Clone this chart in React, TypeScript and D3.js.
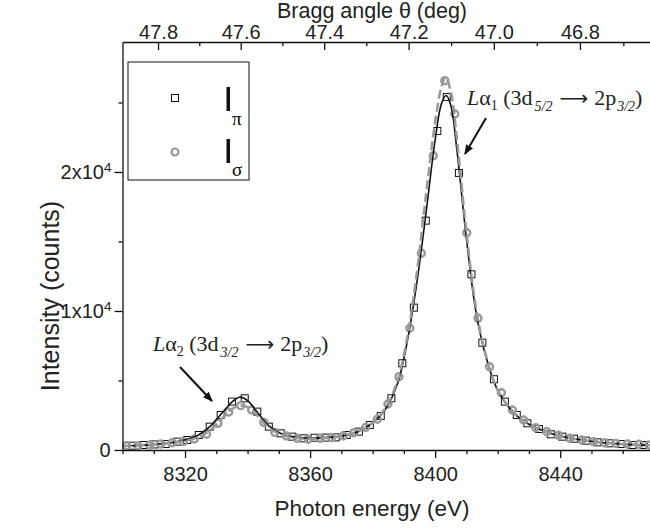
import { useEffect, useRef } from "react"
import * as d3 from "d3"

// pi polarisation data (open squares)
const piEnergy = [8303.1, 8306.6, 8310.2, 8313.8, 8317.5, 8320.7, 8324.4, 8327.9, 8331.4, 8335.0, 8339.1, 8343.1, 8346.8, 8350.6, 8354.3, 8358.0, 8361.5, 8364.8, 8368.2, 8371.7, 8375.6, 8379.1, 8382.6, 8386.0, 8389.5, 8393.2, 8397.0, 8400.7, 8403.7, 8407.6, 8411.6, 8415.1, 8418.8, 8422.3, 8426.1, 8429.5, 8433.2, 8437.0, 8440.7, 8444.4, 8448.2, 8451.9, 8455.6, 8459.4, 8463.1, 8466.8]
const piCounts = [310, 360, 400, 430, 600, 720, 1080, 1680, 2520, 3480, 3720, 2760, 1680, 1200, 960, 840, 880, 890, 910, 1080, 1320, 1800, 2450, 3720, 6240, 10240, 16500, 22950, 25400, 19930, 12640, 7720, 5090, 3480, 2520, 1920, 1510, 1130, 960, 810, 670, 550, 480, 430, 360, 360]

// sigma polarisation data (grey circles)
const sigmaEnergy = [8301.3, 8304.9, 8308.7, 8312.2, 8315.9, 8319.4, 8323.0, 8326.9, 8330.5, 8334.0, 8337.8, 8341.3, 8345.2, 8348.7, 8352.4, 8355.9, 8359.4, 8363.2, 8366.9, 8370.6, 8374.0, 8377.8, 8381.5, 8384.9, 8388.4, 8391.9, 8395.6, 8399.4, 8403.1, 8406.3, 8410.1, 8413.7, 8417.4, 8421.2, 8424.7, 8428.3, 8432.2, 8435.7, 8439.4, 8443.1, 8446.9, 8450.6, 8454.2, 8457.8, 8461.5, 8465.2, 8468.4]
const sigmaCounts = [310, 310, 360, 430, 525, 600, 790, 1130, 1920, 2730, 3190, 2880, 1990, 1270, 1010, 840, 770, 840, 900, 1010, 1245, 1630, 2210, 3310, 5270, 8760, 14150, 21170, 26570, 24170, 15630, 9480, 5990, 4120, 2880, 2160, 1600, 1320, 1060, 840, 720, 600, 525, 480, 430, 410, 360]

// fitted curves
const piFitEnergy = [8300, 8310, 8318, 8324, 8328, 8332, 8335, 8337.5, 8340, 8343, 8347, 8351, 8355, 8360, 8365, 8370, 8375, 8380, 8384, 8388, 8391, 8394, 8397, 8400, 8402, 8403.5, 8405, 8407, 8410, 8413, 8416, 8420, 8425, 8430, 8435, 8440, 8445, 8450, 8455, 8460, 8465, 8470]
const piFitCounts = [280, 400, 620, 1050, 1700, 2700, 3450, 3800, 3550, 2750, 1700, 1150, 930, 850, 900, 1000, 1280, 1950, 2900, 4800, 7700, 11800, 16900, 22300, 24900, 25500, 24800, 21500, 15200, 10000, 6900, 4300, 2700, 1850, 1350, 1000, 780, 620, 500, 420, 370, 330]
const sigmaFitEnergy = [8300, 8310, 8318, 8324, 8328, 8332, 8335, 8338, 8341, 8344, 8347, 8351, 8355, 8360, 8365, 8370, 8375, 8380, 8384, 8388, 8391, 8394, 8397, 8400, 8402, 8403.3, 8405, 8407, 8410, 8413, 8416, 8420, 8425, 8430, 8435, 8440, 8445, 8450, 8455, 8460, 8465, 8470]
const sigmaFitCounts = [290, 390, 580, 900, 1400, 2300, 2950, 3200, 2950, 2250, 1550, 1100, 880, 800, 860, 1000, 1320, 1950, 3000, 5000, 8000, 12500, 18200, 23600, 26100, 26800, 25800, 22300, 15700, 10300, 7000, 4300, 2750, 1850, 1350, 1000, 780, 620, 500, 420, 370, 330]

// axis ticks
const energyTicks = [8320, 8360, 8400, 8440]
const energyMinor = [8300, 8310, 8330, 8340, 8350, 8370, 8380, 8390, 8410, 8420, 8430, 8450, 8460, 8470]
const countTicks = [0, 10000, 20000]
const countLabels = ["0", "1x10", "2x10"]
const countMinor = [5000, 15000, 25000]
const thetaTicks = [47.8, 47.6, 47.4, 47.2, 47.0, 46.8]
const thetaMinor = [47.7, 47.5, 47.3, 47.1, 46.9, 46.7]
// E * sin(theta), from the Bragg law of the crystal used
const braggK = 6157.1

const W = 650
const H = 528
const margin = { top: 42, right: -4, bottom: 78, left: 122.5 }

const thetaToE = (t: number) => braggK / Math.sin((t * Math.PI) / 180)

const App = () => {
  const svgRef = useRef<SVGSVGElement>(null)

  useEffect(() => {
    const svg = d3.select(svgRef.current)
    svg.selectAll("*").remove()

    const x = d3.scaleLinear().domain([8300, 8470]).range([margin.left, W - margin.right])
    const y = d3.scaleLinear().domain([0, 29350]).range([H - margin.bottom, margin.top])
    const y0 = H - margin.bottom

    const pi = piEnergy.map((e, i) => ({ e, c: piCounts[i] }))
    const sigma = sigmaEnergy.map((e, i) => ({ e, c: sigmaCounts[i] }))
    const piFit = piFitEnergy.map((e, i) => ({ e, c: piFitCounts[i] }))
    const sigmaFit = sigmaFitEnergy.map((e, i) => ({ e, c: sigmaFitCounts[i] }))

    const line = d3
      .line<{ e: number; c: number }>()
      .x(d => x(d.e))
      .y(d => y(d.c))
      .curve(d3.curveCatmullRom)

    //Data points
    svg
      .append("g")
      .selectAll("rect")
      .data(pi)
      .enter()
      .append("rect")
      .attr("x", d => x(d.e) - 3.5)
      .attr("y", d => y(d.c) - 3.5)
      .attr("width", 7)
      .attr("height", 7)
      .attr("fill", "none")
      .attr("stroke", "#111")
      .attr("stroke-width", 1)

    svg
      .append("g")
      .selectAll("circle")
      .data(sigma)
      .enter()
      .append("circle")
      .attr("cx", d => x(d.e))
      .attr("cy", d => y(d.c))
      .attr("r", 3.5)
      .attr("fill", "none")
      .attr("stroke", "#999")
      .attr("stroke-width", 2.4)

    //Fits
    svg
      .append("path")
      .datum(piFit)
      .attr("fill", "none")
      .attr("stroke", "#111")
      .attr("stroke-width", 1.6)
      .attr("d", line)

    svg
      .append("path")
      .datum(sigmaFit)
      .attr("fill", "none")
      .attr("stroke", "#999")
      .attr("stroke-width", 2.5)
      .attr("stroke-dasharray", "9,4")
      .attr("d", line)

    const font = "'Liberation Sans', Arial, sans-serif"
    const serif = "'Liberation Serif', 'Times New Roman', serif"

    //Bottom axis
    const bottom = svg.append("g").attr("transform", `translate(0, ${y0})`)
    bottom.call(d3.axisBottom(x).tickValues(energyTicks).tickSize(8).tickSizeOuter(0).tickPadding(9).tickFormat(d3.format("d")))
    bottom.append("g").call(d3.axisBottom(x).tickValues(energyMinor).tickSize(4).tickFormat(() => "").tickSizeOuter(0))
      .select(".domain").remove()

    //Left axis
    const left = svg.append("g").attr("transform", `translate(${margin.left}, 0)`)
    left.call(d3.axisLeft(y).tickValues(countTicks).tickSize(8).tickSizeOuter(0).tickFormat(() => ""))
    left.append("g").call(d3.axisLeft(y).tickValues(countMinor).tickSize(4).tickFormat(() => "").tickSizeOuter(0))
      .select(".domain").remove()

    left
      .selectAll(".cnt")
      .data(countTicks)
      .enter()
      .append("text")
      .attr("class", "cnt")
      .attr("x", (d, i) => (i === 0 ? -12 : -11))
      .attr("y", d => y(d))
      .attr("dy", "0.35em")
      .attr("text-anchor", "end")
      .attr("fill", "#222")
      .style("font-family", font)
      .style("font-size", "20px")
      .text((d, i) => countLabels[i])
      .filter((d, i) => i > 0)
      .append("tspan")
      .attr("dy", "-0.55em")
      .style("font-size", "13.5px")
      .text("4")

    //Top axis (Bragg angle)
    const top = svg.append("g").attr("transform", `translate(0, ${margin.top})`)
    top.call(
      d3
        .axisTop(x)
        .tickValues(thetaTicks.map(thetaToE))
        .tickSizeInner(-8)
        .tickSizeOuter(0)
        .tickPadding(3)
        .tickFormat((d, i) => thetaTicks[i].toFixed(1))
    )
    top.append("g").call(d3.axisTop(x).tickValues(thetaMinor.map(thetaToE)).tickSizeInner(-4).tickSizeOuter(0).tickFormat(() => ""))
      .select(".domain").remove()

    svg.selectAll(".domain").attr("stroke", "#111").attr("stroke-width", 1.3)
    svg.selectAll(".tick line").attr("stroke", "#111").attr("stroke-width", 1.3)
    svg.selectAll(".tick text").style("font-family", font).style("font-size", "20px").attr("fill", "#222")

    //Axis titles
    svg.append("text")
      .attr("x", 372).attr("y", 516)
      .attr("text-anchor", "middle")
      .style("font-family", font).style("font-size", "22.5px").attr("fill", "#222")
      .text("Photon energy (eV)")

    svg.append("text")
      .attr("x", 372).attr("y", 17.5)
      .attr("text-anchor", "middle")
      .style("font-family", font).style("font-size", "21.5px").attr("fill", "#222")
      .text("Bragg angle θ (deg)")

    svg.append("text")
      .attr("transform", "translate(59, 296) rotate(-90)")
      .attr("text-anchor", "middle")
      .style("font-family", font).style("font-size", "25px").attr("fill", "#222")
      .text("Intensity (counts)")

    //Legend
    const legend = svg.append("g")
    legend.append("rect")
      .attr("x", 128).attr("y", 62).attr("width", 121).attr("height", 118)
      .attr("fill", "white").attr("stroke", "#111").attr("stroke-width", 1)
    legend.append("rect")
      .attr("x", 171.5).attr("y", 94.5).attr("width", 7).attr("height", 7)
      .attr("fill", "none").attr("stroke", "#111")
    legend.append("circle")
      .attr("cx", 175).attr("cy", 152).attr("r", 3.5)
      .attr("fill", "none").attr("stroke", "#999").attr("stroke-width", 2.2)
    legend.append("rect").attr("x", 226.5).attr("y", 87).attr("width", 3.5).attr("height", 24).attr("fill", "#111")
    legend.append("rect").attr("x", 226.5).attr("y", 139).attr("width", 3.5).attr("height", 24).attr("fill", "#111")
    legend.append("text").attr("x", 232).attr("y", 125).style("font-family", serif).style("font-size", "19px").text("π")
    legend.append("text").attr("x", 232).attr("y", 176).style("font-family", serif).style("font-size", "19px").text("σ")

    //Line annotations
    const annot = (xx: number, yy: number, size: number, n: string, a: string, b: string) => {
      const sub = Math.round(size * 0.62)
      const t = svg.append("text").attr("x", xx).attr("y", yy)
        .style("font-family", serif).style("font-size", `${size}px`).attr("fill", "#222")
      t.append("tspan").style("font-style", "italic").text("L")
      t.append("tspan").text("α")
      t.append("tspan").attr("dy", 5).style("font-size", `${sub}px`).text(n)
      t.append("tspan").attr("dy", -5).text(" (3d")
      t.append("tspan").attr("dy", 6).attr("dx", 2).style("font-size", `${sub}px`).style("font-style", "italic").text(a)
      t.append("tspan").attr("dy", -6).attr("dx", 7).style("font-family", "'DejaVu Sans', sans-serif").style("font-size", `${size - 2}px`).text("⟶")
      t.append("tspan").attr("dx", 6).text("2p")
      t.append("tspan").attr("dy", 6).attr("dx", 1).style("font-size", `${sub}px`).style("font-style", "italic").text(b)
      t.append("tspan").attr("dy", -6).text(")")
    }
    annot(467, 105, 22, "1", "5/2", "3/2")
    annot(153, 351, 22, "2", "3/2", "3/2")

    const defs = svg.append("defs")
    defs.append("marker")
      .attr("id", "head").attr("viewBox", "0 0 10 10")
      .attr("refX", 9).attr("refY", 5)
      .attr("markerWidth", 5).attr("markerHeight", 5)
      .attr("orient", "auto")
      .append("path").attr("d", "M0,1 L10,5 L0,9 z").attr("fill", "#111")

    svg.append("line")
      .attr("x1", 486).attr("y1", 118).attr("x2", 465).attr("y2", 154)
      .attr("stroke", "#111").attr("stroke-width", 2)
      .attr("marker-end", "url(#head)")
    svg.append("line")
      .attr("x1", 180).attr("y1", 367).attr("x2", 212).attr("y2", 401)
      .attr("stroke", "#111").attr("stroke-width", 2)
      .attr("marker-end", "url(#head)")
  }, [])

  return <svg ref={svgRef} width={W} height={H} style={{ position: "absolute", left: 0, top: 0 }} />
}

export default App
